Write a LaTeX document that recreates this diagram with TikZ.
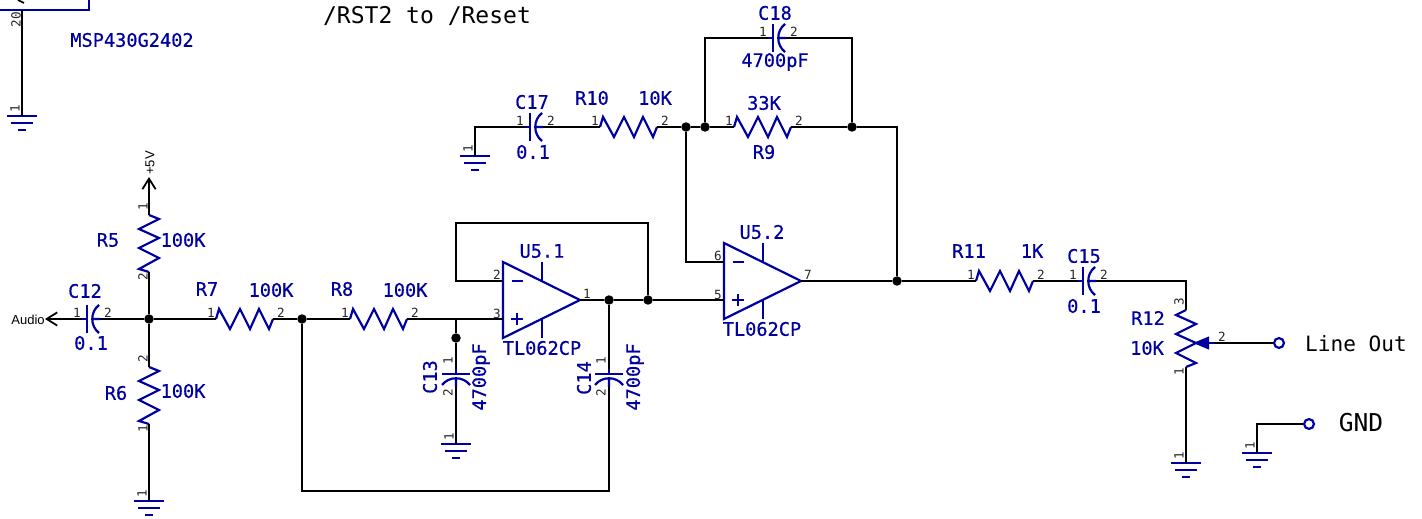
\documentclass[tikz,border=0pt]{standalone}
\usepackage{fontspec}
\usepackage{tikz}
\usetikzlibrary{arrows.meta}
\newfontfamily\partfont{DejaVu Sans Mono}
\newfontfamily\heavyfont[FakeBold=0.5]{DejaVu Sans Mono}
\newfontfamily\sigfont{Liberation Sans}
\definecolor{partblue}{RGB}{0,0,160}
\tikzset{
    wire/.style={black,line width=1pt},
    part/.style={partblue,line width=1.25pt},
    >={Straight Barb[length=6pt,width=7.5pt]},
    dot/.style={circle,fill=black,inner sep=0pt,minimum size=5.4pt},
    term/.style={circle,draw=partblue,fill=white,line width=1.25pt,inner sep=0pt,minimum size=5.6pt},
    pinno/.style={black!85,inner sep=0pt,transform shape,font=\partfont\fontsize{7.2}{9}\selectfont},
    val/.style={partblue,inner sep=0pt,font=\heavyfont\fontsize{10.6}{12}\selectfont},
    note/.style={black,inner sep=0pt,font=\partfont\fontsize{13.1}{15}\selectfont},
    sig/.style={black,inner sep=0pt,font=\sigfont\fontsize{7.4}{9}\selectfont},
    pics/res/.style 2 args={code={
        \coordinate (-a) at (0,0);
        \coordinate (-b) at (57,0);
        \draw[part] (0,0) -- (3,-10) -- (14,10) -- (24,-10) -- (34,10) -- (43,-10) -- (53,10) -- (57,0);
        \node[pinno] (-p1) at (-5,-6) {#1};
        \node[pinno] (-p2) at (65,-6) {#2};
    }},
    pics/opamp/.style n args={3}{code={
        \coordinate (-m) at (0,-19);
        \coordinate (-p) at (0,19);
        \coordinate (-o) at (77,0);
        \draw[part] (0,-38) -- (77,0) -- (0,38) -- cycle;
        \draw[part] (9,-19) -- (20,-19) (8,19) -- (20,19) (14,13) -- (14,25);
        \draw[part] (39,-38) -- (39,-19) (39,19) -- (39,38);
        \node[pinno] (-p1) at (-6,-25) {#1};
        \node[pinno] (-p2) at (-6,14) {#2};
        \node[pinno] (-p3) at (84,-6) {#3};
    }},
    cap/.pic={
        \coordinate (-a) at (0,0);
        \coordinate (-b) at (18,0);
        \draw[part] (0,0) -- (5,0) (5,-14) -- (5,14);
        \draw[part] (17,-14) .. controls (8,-7) and (8,7) .. (17,14) (10,0) -- (18,0);
        \node[pinno] (-p1) at (-5,-6) {1};
        \node[pinno] (-p2) at (26,-6) {2};
    },
    capv/.pic={
        \coordinate (-a) at (0,0);
        \coordinate (-b) at (0,18);
        \draw[part] (0,0) -- (0,5) (-14,5) -- (14,5);
        \draw[part] (-14,16) .. controls (-7,7) and (7,7) .. (14,16) (0,10) -- (0,18);
        \node[pinno,rotate=90] (-p1) at (-8,-8) {1};
        \node[pinno,rotate=90] (-p2) at (-8,24) {2};
    },
    gnd/.pic={
        \coordinate (-a) at (0,0);
        \draw[part] (-15,0) -- (15,0) (-11,7) -- (11,7) (-4,14) -- (4,14);
        \node[pinno,rotate=90] (-p1) at (-7,-7) {1};
    },
    pot/.pic={
        \coordinate (-a) at (0,0);
        \coordinate (-b) at (0,57);
        \coordinate (-w) at (28,33);
        \draw[part] (0,0) -- (-10,5) -- (10,14) -- (-10,24) -- (10,33) -- (-10,43) -- (10,53) -- (0,57);
        \draw[part,fill=partblue] (10,33) -- (22,28) -- (22,38) -- cycle;
        \draw[part] (22,33) -- (28,33);
        \node[pinno,rotate=90] (-p1) at (-7,-8) {3};
        \node[pinno,rotate=90] (-p2) at (-7,62) {1};
        \node[pinno] (-p3) at (36,27) {2};
    },
}
\begin{document}
\begin{tikzpicture}[x=0.02cm,y=-0.02cm]
    \useasboundingbox (0,0) rectangle (1422,519);

    \coordinate (boxl) at (0,10);
    \coordinate (boxc) at (22,10);
    \coordinate (boxr) at (89,0);
    \coordinate (marka) at (18,0);
    \coordinate (markb) at (24,3);
    \coordinate (audio) at (45,319);
    \coordinate (vcc) at (149,177);
    \coordinate (fbk) at (456,223);
    \coordinate (low) at (609,491);

    \node[dot] (n1) at (149,319) {};
    \node[dot] (n2) at (302,319) {};
    \node[dot] (n3) at (456,338) {};
    \node[dot] (n4) at (609,300) {};
    \node[dot] (n5) at (648,300) {};
    \node[dot] (n6) at (686,127) {};
    \node[dot] (n7) at (705,127) {};
    \node[dot] (n8) at (852,127) {};
    \node[dot] (n9) at (897,281) {};
    \node[term] (lineout) at (1279,343) {};
    \node[term] (gndout) at (1309,424) {};

    \pic[rotate=90] (R5) at (149,272) {res={2}{1}};
    \pic[rotate=90] (R6) at (149,424) {res={1}{2}};
    \pic (R7) at (216,319) {res={1}{2}};
    \pic (R8) at (350,319) {res={1}{2}};
    \pic (R10) at (600,127) {res={1}{2}};
    \pic (R9) at (734,127) {res={1}{2}};
    \pic (R11) at (976,281) {res={1}{2}};
    \pic (R12) at (1186,310) {pot};
    \pic (C12) at (82,319) {cap};
    \pic (C13) at (456,369) {capv};
    \pic (C14) at (609,369) {capv};
    \pic (C15) at (1078,281) {cap};
    \pic (C17) at (525,127) {cap};
    \pic (C18) at (768,38) {cap};
    \pic (U51) at (503,300) {opamp={2}{3}{1}};
    \pic (U52) at (724,281) {opamp={6}{5}{7}};
    \pic (G1) at (22,116) {gnd};
    \pic (G2) at (149,501) {gnd};
    \pic (G3) at (456,444) {gnd};
    \pic (G4) at (475,156) {gnd};
    \pic (G5) at (1186,463) {gnd};
    \pic (G6) at (1257,453) {gnd};

    \draw[part] (boxl) -- (boxr |- boxl) -- (boxr);
    \draw[wire] (marka) -- (markb);
    \draw[wire] (boxc) -- (G1-a);
    \draw[wire,->] (R5-b) -- (vcc);
    \draw[wire] (R5-a) -- (n1) -- (R6-b);
    \draw[wire] (R6-a) -- (G2-a);
    \draw[wire,->] (C12-a) -- (audio);
    \draw[wire] (C12-b) -- (n1) -- (R7-a);
    \draw[wire] (R7-b) -- (n2) -- (R8-a);
    \draw[wire] (R8-b) -- (U51-p);
    \draw[wire] (n3 |- R8-b) -- (n3) -- (C13-a);
    \draw[wire] (C13-b) -- (G3-a);
    \draw[wire] (U51-m) -| (fbk) -| (n5);
    \draw[wire] (U51-o) -- (n4) -- (n5) -- (U52-p);
    \draw[wire] (n4) -- (C14-a);
    \draw[wire] (C14-b) -- (low) -| (n2);
    \draw[wire] (C17-a) -| (G4-a);
    \draw[wire] (C17-b) -- (R10-a);
    \draw[wire] (R10-b) -- (n6) -- (n7) -- (R9-a);
    \draw[wire] (R9-b) -- (n8) -| (n9);
    \draw[wire] (n7) |- (C18-a);
    \draw[wire] (C18-b) -| (n8);
    \draw[wire] (U52-m) -| (n6);
    \draw[wire] (U52-o) -- (n9) -- (R11-a);
    \draw[wire] (R11-b) -- (C15-a);
    \draw[wire] (C15-b) -| (R12-a);
    \draw[wire] (R12-b) -- (G5-a);
    \draw[wire] (R12-w) -- (lineout);
    \draw[wire] (gndout) -| (G6-a);

    \node[note] (rsttext) at (427,16) {/RST2 to /Reset};
    \node[note,font=\partfont\fontsize{12}{14}\selectfont] (lineouttext) at (1356,344) {Line Out};
    \node[note,font=\partfont\fontsize{14}{16}\selectfont] (gndtext) at (1361,423) {GND};
    \node[val] (msp) at (132,40) {MSP430G2402};
    \node[pinno,rotate=90] (pin20) at (16,20) {20};
    \node[sig,rotate=90] (plus5) at (150,163) {+5V};
    \node[sig] (audiotext) at (28,320) {Audio};

    \node[val] (R5ref) at (108,240) {R5};
    \node[val] (R5val) at (183,240) {100K};
    \node[val] (R6ref) at (116,393) {R6};
    \node[val] (R6val) at (183,391) {100K};
    \node[val] (R7ref) at (207,289) {R7};
    \node[val] (R7val) at (271,290) {100K};
    \node[val] (R8ref) at (342,289) {R8};
    \node[val] (R8val) at (405,290) {100K};
    \node[val] (R9ref) at (764,152) {R9};
    \node[val] (R9val) at (764,103) {33K};
    \node[val] (R10ref) at (592,98) {R10};
    \node[val] (R10val) at (655,98) {10K};
    \node[val] (R11ref) at (969,251) {R11};
    \node[val] (R11val) at (1032,251) {1K};
    \node[val] (R12ref) at (1148,318) {R12};
    \node[val] (R12val) at (1147,348) {10K};
    \node[val] (C12ref) at (85,291) {C12};
    \node[val] (C12val) at (91,343) {0.1};
    \node[val,rotate=90] (C13ref) at (430,377) {C13};
    \node[val,rotate=90] (C13val) at (481,377) {4700pF};
    \node[val,rotate=90] (C14ref) at (584,378) {C14};
    \node[val,rotate=90] (C14val) at (635,377) {4700pF};
    \node[val] (C15ref) at (1084,256) {C15};
    \node[val] (C15val) at (1084,306) {0.1};
    \node[val] (C17ref) at (532,102) {C17};
    \node[val] (C17val) at (533,152) {0.1};
    \node[val] (C18ref) at (775,13) {C18};
    \node[val] (C18val) at (775,62) {4700pF};
    \node[val] (U51ref) at (542,251) {U5.1};
    \node[val] (U51val) at (542,348) {TL062CP};
    \node[val] (U52ref) at (762,232) {U5.2};
    \node[val] (U52val) at (762,329) {TL062CP};
\end{tikzpicture}
\end{document}
